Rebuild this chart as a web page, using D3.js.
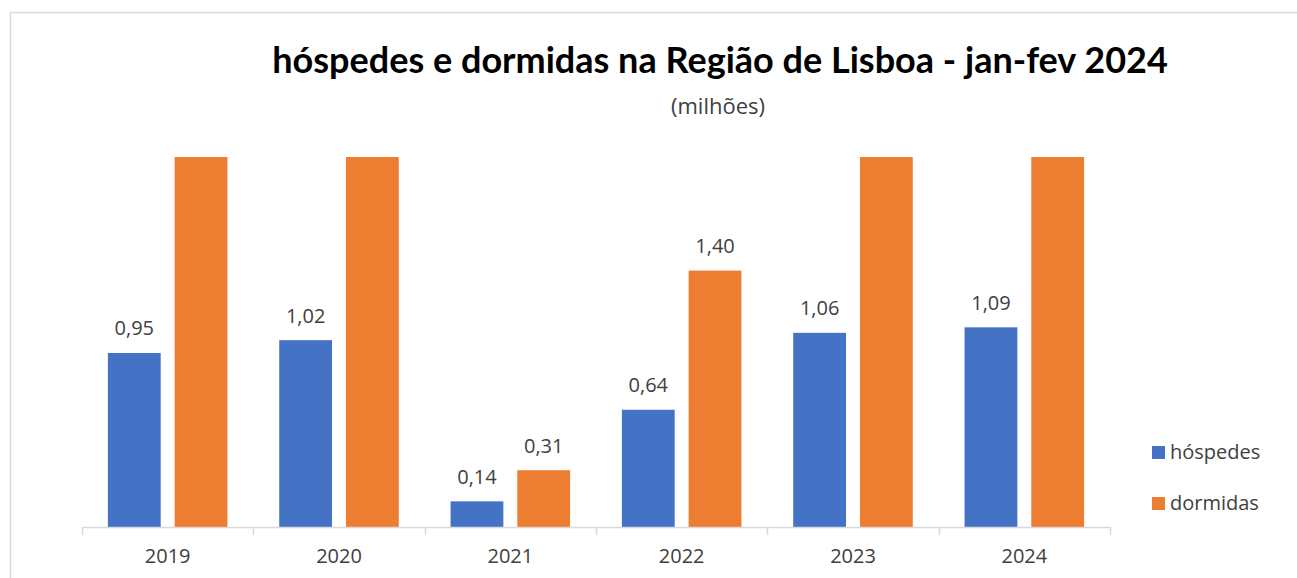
<!DOCTYPE html>
<html>
<head>
<meta charset="utf-8">
<script src="https://cdn.jsdelivr.net/npm/d3@7"></script>
<style>
  html, body { margin: 0; padding: 0; background: #fff; }
  body { width: 1297px; height: 578px; overflow: hidden; }
  svg text { font-family: "Open Sans", "Noto Sans", sans-serif; }
</style>
</head>
<body>
<div id="chart"></div>
<script>
// anos (categorias) e valores em milhões
const years = ["2019", "2020", "2021", "2022", "2023", "2024"];
const seriesNames = ["hóspedes", "dormidas"];
const hospedes = [0.95, 1.02, 0.14, 0.64, 1.06, 1.09];
// dormidas acima do topo do eixo ficam cortadas, como no original
const dormidas = [2.31, 2.41, 0.31, 1.40, 2.47, 2.60];
const yMax = 2.02;

const colors = { "hóspedes": "#4472C4", "dormidas": "#ED7D31" };

const W = 1297, H = 578;
const margin = { top: 157, right: 187, bottom: 51, left: 82 };
const baseY = H - margin.bottom;

const svg = d3.select("#chart")
    .append("svg")
    .attr("width", W)
    .attr("height", H);

// moldura do gráfico (lado direito e fundo ficam fora da imagem)
svg.append("path")
    .attr("d", `M10.5,${H} L10.5,12.5 L${W},12.5`)
    .attr("fill", "none")
    .attr("stroke", "#d9d9d9")
    .attr("stroke-width", 1.5);

// escalas
const x0 = d3.scaleBand()
    .domain(years)
    .range([margin.left, W - margin.right])
    .padding(0);

const x1 = d3.scaleBand()
    .domain(seriesNames)
    .range([0, x0.bandwidth()])
    .paddingInner(0.209)
    .paddingOuter(0.388);

const y = d3.scaleLinear()
    .domain([0, yMax])
    .range([baseY, margin.top])
    .clamp(true);

const rows = years.map((yr, i) => ({
    year: yr,
    values: [
        { key: "hóspedes", value: hospedes[i] },
        { key: "dormidas", value: dormidas[i] }
    ]
}));

// barras
const groups = svg.selectAll("g.year")
    .data(rows)
    .enter()
    .append("g")
    .attr("class", "year")
    .attr("transform", d => `translate(${x0(d.year)},0)`);

groups.selectAll("rect")
    .data(d => d.values)
    .enter()
    .append("rect")
        .attr("x", d => x1(d.key))
        .attr("y", d => y(d.value))
        .attr("width", x1.bandwidth())
        .attr("height", d => baseY - y(d.value))
        .attr("fill", d => colors[d.key]);

// rótulos de valor (só os que cabem dentro do eixo)
groups.selectAll("text.val")
    .data(d => d.values.filter(v => v.value <= yMax))
    .enter()
    .append("text")
        .attr("class", "val")
        .attr("x", d => x1(d.key) + x1.bandwidth() / 2)
        .attr("y", d => y(d.value) - 17.5)
        .attr("text-anchor", "middle")
        .attr("font-size", "20px")
        .attr("fill", "#404040")
        .text(d => d3.format(".2f")(d.value).replace(".", ","));

// eixo x
const xAxis = svg.append("g")
    .attr("transform", `translate(0,${baseY})`)
    .call(d3.axisBottom(x0).tickSize(0).tickPadding(0));

xAxis.select(".domain")
    .attr("stroke", "#d9d9d9")
    .attr("stroke-width", 1.5)
    .attr("d", `M${margin.left},0.5H${W - margin.right}`);

xAxis.selectAll(".tick text")
    .attr("dy", null)
    .attr("y", 36)
    .attr("font-size", "20px")
    .attr("fill", "#404040");

// marcas entre categorias
const edges = years.map(d => x0(d)).concat([x0(years[years.length - 1]) + x0.bandwidth()]);
xAxis.selectAll("line.sep")
    .data(edges)
    .enter()
    .append("line")
        .attr("class", "sep")
        .attr("x1", d => Math.round(d) + 0.5)
        .attr("x2", d => Math.round(d) + 0.5)
        .attr("y1", 0)
        .attr("y2", 8)
        .attr("stroke", "#d9d9d9")
        .attr("stroke-width", 1.5);

// título e subtítulo
const title = svg.append("text")
    .attr("x", 720)
    .attr("y", 73)
    .attr("text-anchor", "middle")
    .attr("font-weight", 700)
    .attr("font-size", "30px")
    .attr("fill", "#000")
    .style("font-family", "Lato, 'Open Sans', sans-serif")
    .text("hóspedes e dormidas na Região de Lisboa - jan-fev 2024");

// ajusta o tamanho da letra à largura do título original
const tw = title.node().getComputedTextLength();
title.attr("font-size", (30 * 896 / tw).toFixed(2) + "px");

svg.append("text")
    .attr("x", 718)
    .attr("y", 114)
    .attr("text-anchor", "middle")
    .attr("font-size", "22px")
    .attr("fill", "#404040")
    .text("(milhões)");

// legenda
const legend = svg.selectAll("g.legend")
    .data(seriesNames)
    .enter()
    .append("g")
    .attr("class", "legend")
    .attr("transform", (d, i) => `translate(1152,${446 + i * 51})`);

legend.append("rect")
    .attr("width", 13)
    .attr("height", 13)
    .attr("fill", d => colors[d]);

legend.append("text")
    .attr("x", 18)
    .attr("y", 13)
    .attr("font-size", "20px")
    .attr("fill", "#404040")
    .text(d => d);
</script>
</body>
</html>
